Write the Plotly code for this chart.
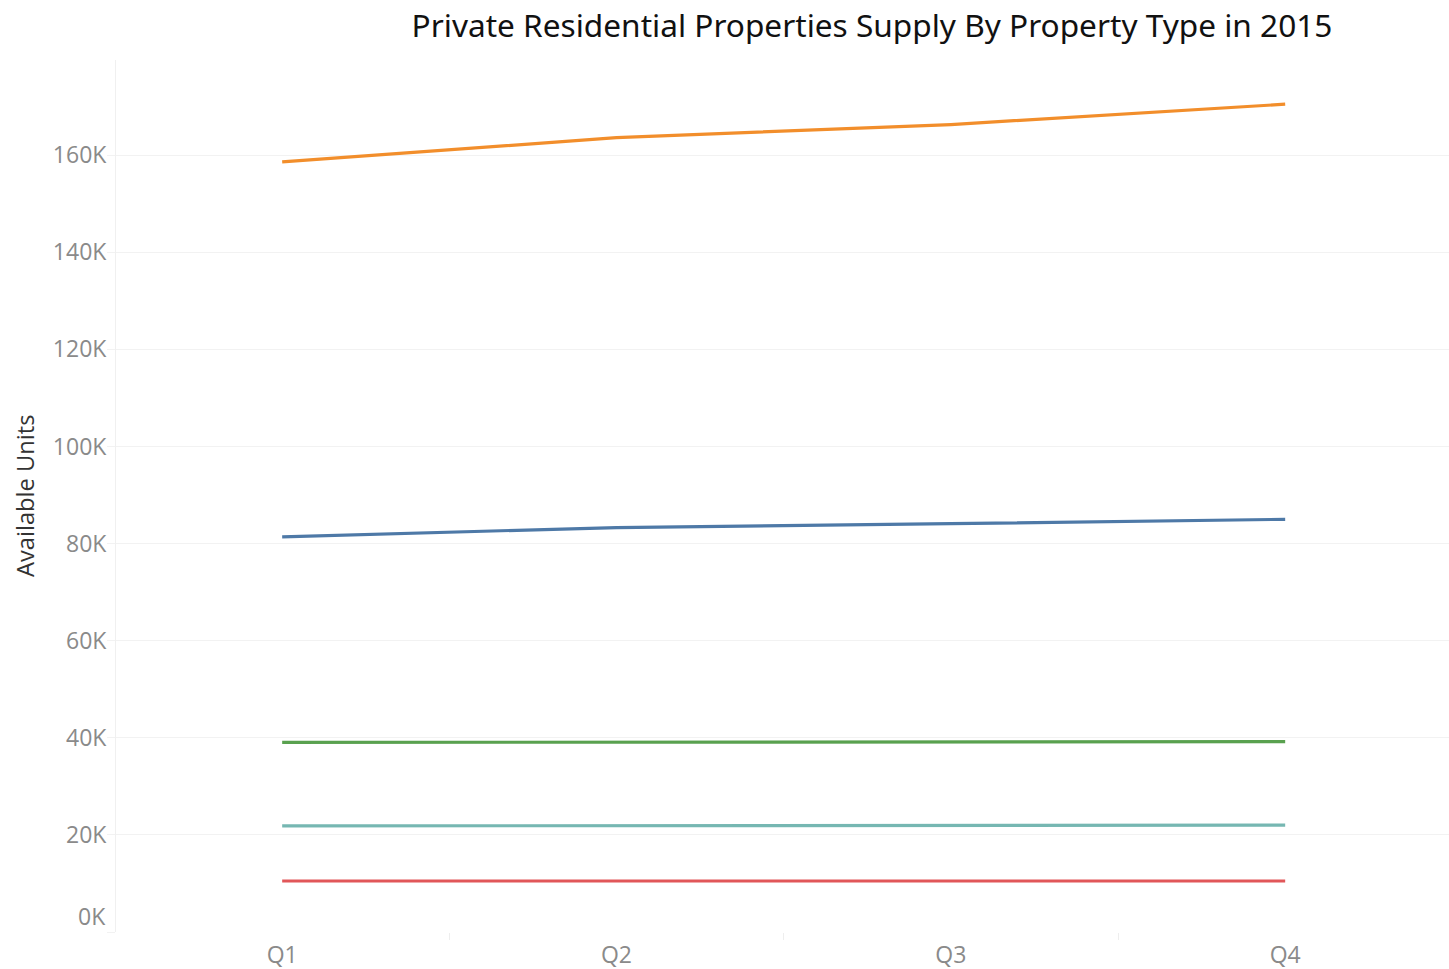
import plotly.graph_objects as go

quarters = ["Q1", "Q2", "Q3", "Q4"]
series_orange = [158600, 163600, 166300, 170500]
series_blue = [81400, 83300, 84100, 85000]
series_green = [39050, 39100, 39100, 39200]
series_teal = [21850, 21900, 21950, 22000]
series_red = [10500, 10500, 10500, 10500]

series = [
    ("Series 1", series_orange, "#f28e2b"),
    ("Series 2", series_blue, "#4e79a7"),
    ("Series 3", series_green, "#59a14f"),
    ("Series 4", series_teal, "#76b7b2"),
    ("Series 5", series_red, "#e15759"),
]

y_tick_vals = [20000, 40000, 60000, 80000, 100000, 120000, 140000, 160000]
y_tick_text = ["20K", "40K", "60K", "80K", "100K", "120K", "140K", "160K"]

fig = go.Figure()
for name, vals, color in series:
    fig.add_trace(go.Scatter(x=quarters, y=vals, mode="lines", name=name,
                             line=dict(color=color, width=3.2)))

tick_font = dict(family="Open Sans", size=23, color="#8a8a8a")
fig.update_layout(
    width=1449, height=969,
    paper_bgcolor="white", plot_bgcolor="white",
    margin=dict(l=116, r=0, t=60, b=37),
    showlegend=False,
    title=dict(text="Private Residential Properties Supply By Property Type in 2015",
               font=dict(family="Noto Sans", size=31.6, color="#111111"),
               x=872 / 1449, xref="container", xanchor="center",
               y=1 - 26 / 969, yref="container", yanchor="middle"),
)
fig.update_xaxes(
    type="category", range=[-0.497, 3.49],
    tickfont=tick_font, ticks="outside", tickson="boundaries",
    ticklen=7, tickcolor="#eeeeee", showgrid=False,
    showline=False, zeroline=False, ticklabelstandoff=7,
)
fig.update_yaxes(
    range=[0, 179600], tickvals=[0] + y_tick_vals, ticktext=[" "] + y_tick_text,
    tickfont=tick_font, ticks="outside", ticklen=8, tickcolor="#f2f2f2",
    showgrid=True, gridcolor="#f2f2f2", gridwidth=1,
    showline=True, linecolor="#f0f0f0", linewidth=1,
    zeroline=False, ticklabelstandoff=-4,
)
fig.add_annotation(x=0, y=0, xref="x domain", yref="y", text="0K", showarrow=False,
                   xanchor="right", yanchor="middle", xshift=-8, yshift=16,
                   font=tick_font)
fig.add_annotation(x=-91 / 1333, y=0.5, xref="paper", yref="paper",
                   text="Available Units", textangle=-90, showarrow=False,
                   xanchor="center", yanchor="middle",
                   font=dict(family="Open Sans", size=23.7, color="#333333"))
fig.write_html("out.html", config={"displayModeBar": False},
               post_script="document.body.style.margin='0';")
